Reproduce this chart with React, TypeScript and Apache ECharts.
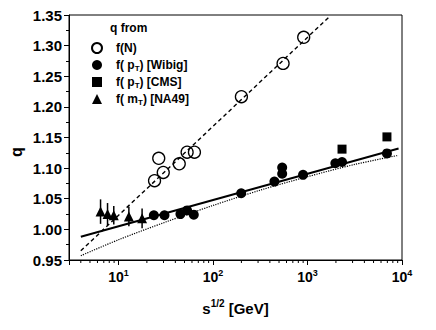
import React, { useEffect, useRef } from 'react';
import * as echarts from 'echarts';

// f(N) open circles
const fnX = [24.1, 26.7, 29.8, 44, 53.3, 63.7, 200, 552, 912];
const fnY = [1.0795, 1.116, 1.093, 1.107, 1.126, 1.126, 1.2166, 1.271, 1.3136];
// f(pT) [Wibig] filled circles
const wbX = [23.7, 30.7, 45.3, 53.3, 62.7, 199, 447, 540, 540, 898, 1972, 2320, 6930];
const wbY = [1.023, 1.023, 1.025, 1.031, 1.024, 1.059, 1.078, 1.101, 1.091, 1.089, 1.108, 1.110, 1.124];
// f(pT) [CMS] squares
const cmsX = [2320, 6930];
const cmsY = [1.131, 1.151];
// f(mT) [NA49] triangles with error bars
const naX = [6.47, 7.67, 8.93, 12.9, 17.8];
const naY = [1.029, 1.025, 1.023, 1.021, 1.018];
const naErr = [0.020, 0.018, 0.015, 0.016, 0.016];
// fit lines
const dashX = [4, 1700];
const dashY = [0.965, 1.347];
const solidX = [4, 9200];
const solidY = [0.988, 1.132];
const dotX = [4, 10, 31.6, 100, 316, 1000, 3162, 9200];
const dotY = [0.957, 0.983, 1.012, 1.039, 1.064, 1.086, 1.106, 1.121];
// log minor ticks
const minorX = [4, 5, 6, 7, 8, 9, 20, 30, 40, 50, 60, 70, 80, 90, 200, 300, 400, 500, 600, 700, 800, 900, 2000, 3000, 4000, 5000, 6000, 7000, 8000, 9000];

const names = ['f(N)', 'f( pT) [Wibig]', 'f( pT) [CMS]', 'f( mT) [NA49]'];
const legendLabels: Record<string, string> = {
  'f(N)': '{sp| }f(N)',
  'f( pT) [Wibig]': '{sp| }f( p{sub|T}) [Wibig]',
  'f( pT) [CMS]': '{sp| }f( p{sub|T}) [CMS]',
  'f( mT) [NA49]': '{sp| }f( m{sub|T}) [NA49]',
};

const FONT = 'Liberation Sans';

const pairs = (xs: number[], ys: number[]) => xs.map((x, i) => [x, ys[i]]);

export default function App() {
  const ref = useRef<HTMLDivElement>(null);
  useEffect(() => {
    document.body.style.margin = '0';
    const chart = echarts.init(ref.current!, null, { renderer: 'svg' });
    const option: any = {
      animation: false,
      backgroundColor: '#fff',
      textStyle: { fontFamily: FONT },
      grid: { left: 69, right: 34, top: 15, bottom: 70, show: true, borderColor: '#000', borderWidth: 1, backgroundColor: 'transparent' },
      xAxis: {
        type: 'log', logBase: 10, min: 3, max: 10000,
        axisLine: { show: true, lineStyle: { color: '#000', width: 1 } },
        axisTick: { show: true, length: 5, lineStyle: { color: '#000', width: 1 } },
        minorTick: { show: false },
        splitLine: { show: false },
        axisLabel: {
          margin: 8,
          color: '#000',
          formatter: (v: number) => {
            const l = Math.log10(v);
            const r = Math.round(l);
            if (Math.abs(l - r) > 1e-6 || r < 1) return '';
            return `{b|10}{s|${r}}`;
          },
          rich: {
            b: { fontFamily: FONT, fontSize: 14, fontWeight: 'bold', color: '#000', lineHeight: 18 },
            s: { fontFamily: FONT, fontSize: 9, fontWeight: 'bold', color: '#000', lineHeight: 10, verticalAlign: 'top' },
          },
        },
        name: '{b|s}{s|1/2}{b| [GeV]}',
        nameLocation: 'middle',
        nameGap: 38,
        nameTextStyle: {
          rich: {
            b: { fontFamily: FONT, fontSize: 15, fontWeight: 'bold', color: '#000', lineHeight: 20 },
            s: { fontFamily: FONT, fontSize: 10, fontWeight: 'bold', color: '#000', lineHeight: 11, verticalAlign: 'top' },
          },
        },
      },
      yAxis: {
        type: 'value', min: 0.95, max: 1.35, interval: 0.05,
        axisLine: { show: true, lineStyle: { color: '#000', width: 1 } },
        axisTick: { show: true, length: 5, lineStyle: { color: '#000', width: 1 } },
        minorTick: { show: true, splitNumber: 2, length: 3, lineStyle: { color: '#000', width: 1 } },
        splitLine: { show: false },
        axisLabel: {
          margin: 7,
          color: '#000',
          fontFamily: FONT,
          fontSize: 15,
          fontWeight: 'bold',
          formatter: (v: number) => v.toFixed(2),
        },
      },
      legend: {
        data: names,
        orient: 'vertical',
        left: 86,
        top: 36,
        itemWidth: 10,
        itemHeight: 10,
        itemGap: 3,
        formatter: (n: string) => legendLabels[n],
        textStyle: {
          fontFamily: FONT, fontWeight: 'bold', fontSize: 12, color: '#000', lineHeight: 14,
          rich: {
            sp: { width: 9 },
            sub: { fontFamily: FONT, fontSize: 8, fontWeight: 'bold', color: '#000', lineHeight: 8, verticalAlign: 'bottom' },
          },
        },
      },
      graphic: [
        { type: 'text', x: 110, y: 28, style: { text: 'q from', fontFamily: FONT, fontSize: 12, fontWeight: 'bold', fill: '#000', verticalAlign: 'middle' } },
        { type: 'text', x: 16, y: 152, rotation: Math.PI / 2, style: { text: 'q', fontFamily: FONT, fontSize: 16, fontWeight: 'bold', fill: '#000', align: 'center', verticalAlign: 'middle' } },
      ],
      series: [
        {
          type: 'custom', name: 'minor', silent: true, clip: false,
          data: minorX.map((x) => [x, 0.95]),
          encode: { x: 0, y: 1 },
          renderItem: (_p: any, api: any) => {
            const p = api.coord([api.value(0), 0.95]);
            return { type: 'line', shape: { x1: p[0], y1: p[1], x2: p[0], y2: p[1] + 3 }, style: { stroke: '#000', lineWidth: 1 } };
          },
        },
        { type: 'line', name: 'dash', data: pairs(dashX, dashY), symbol: 'none', lineStyle: { color: '#000', width: 1.4, type: [4, 3] } },
        { type: 'line', name: 'solid', data: pairs(solidX, solidY), symbol: 'none', lineStyle: { color: '#000', width: 2 } },
        { type: 'line', name: 'dot', data: pairs(dotX, dotY), symbol: 'none', smooth: 0.3, lineStyle: { color: '#000', width: 1.2, type: [1.2, 1.2] } },
        {
          type: 'custom', name: 'err', silent: true,
          data: naX.map((x, i) => [x, naY[i] - naErr[i], naY[i] + naErr[i]]),
          encode: { x: 0, y: [1, 2] },
          renderItem: (_p: any, api: any) => {
            const a = api.coord([api.value(0), api.value(1)]);
            const b = api.coord([api.value(0), api.value(2)]);
            return { type: 'line', shape: { x1: a[0], y1: a[1], x2: b[0], y2: b[1] }, style: { stroke: '#000', lineWidth: 1.5 } };
          },
        },
        { type: 'scatter', name: names[0], data: pairs(fnX, fnY), symbol: 'circle', symbolSize: 12, itemStyle: { color: 'rgba(255,255,255,0)', borderColor: '#000', borderWidth: 1.3, opacity: 1 } },
        { type: 'scatter', name: names[1], data: pairs(wbX, wbY), symbol: 'circle', symbolSize: 10, itemStyle: { color: '#000', opacity: 1 } },
        { type: 'scatter', name: names[2], data: pairs(cmsX, cmsY), symbol: 'rect', symbolSize: 9, itemStyle: { color: '#000', opacity: 1 } },
        { type: 'scatter', name: names[3], data: pairs(naX, naY), symbol: 'triangle', symbolSize: [10, 10], itemStyle: { color: '#000', opacity: 1 } },
      ],
    };
    chart.setOption(option);
    return () => chart.dispose();
  }, []);
  return <div ref={ref} style={{ position: 'fixed', left: 0, top: 0, width: 436, height: 330 }} />;
}
